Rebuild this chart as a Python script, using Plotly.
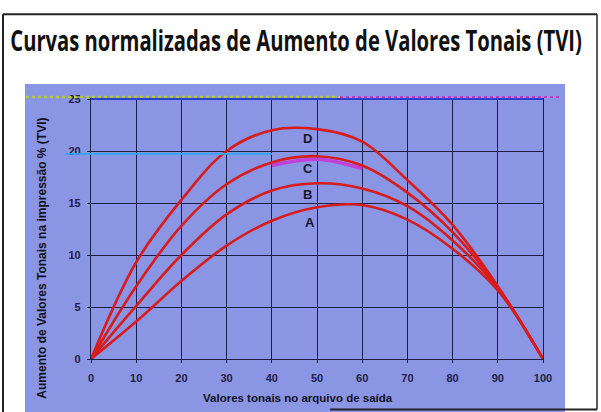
import plotly.graph_objects as go

# ---- data ----
x_vals = [0, 10, 20, 30, 40, 50, 60, 70, 80, 90, 100]
curve_A = [0, 3.6, 7.5, 10.9, 13.3, 14.6, 14.8, 13.4, 10.6, 6.6, 0]
curve_B = [0, 5.1, 10.0, 13.9, 16.2, 16.9, 16.4, 14.7, 11.4, 6.8, 0]
curve_C = [0, 7.0, 12.8, 16.8, 18.9, 19.5, 18.6, 16.0, 12.2, 6.9, 0]
curve_D = [0, 9.3, 15.3, 20.0, 22.0, 22.1, 20.9, 17.2, 12.9, 7.0, 0]
curve_names = ["A", "B", "C", "D"]
label_x = [48.5, 48, 48, 48]
label_y = [13.1, 15.8, 18.3, 21.2]
x_ticks = [0, 10, 20, 30, 40, 50, 60, 70, 80, 90, 100]
y_ticks = [0, 5, 10, 15, 20, 25]

title_text = "Curvas normalizadas de Aumento de Valores Tonais (TVI)"
x_title = "Valores tonais no arquivo de saída"
y_title = "Aumento de Valores Tonais na impressão % (TVI)"

# ---- layout geometry (pixels) ----
W, H = 601, 412
L, R, T, B = 91, 543, 99, 359.5


def px(x):
    return (x - L) / (R - L)


def py(y):
    return (B - y) / (B - T)


BLUE = "#8a95e4"
NAVY = "#1c2048"
RED = "#d81c1c"

fig = go.Figure()

# misregistration artefact under curve C's crest
fig.add_trace(go.Scatter(
    x=x_vals[4:7], y=[v - 0.3 for v in curve_C[4:7]], mode="lines",
    line=dict(color="#c040d8", width=3.5, shape="spline"),
    hoverinfo="skip", showlegend=False))

for name, ys in zip(curve_names, [curve_A, curve_B, curve_C, curve_D]):
    fig.add_trace(go.Scatter(
        x=x_vals, y=ys, mode="lines", name=name,
        line=dict(color=RED, width=2.6, shape="spline", smoothing=1.0),
        showlegend=False))

shapes = [
    # blue panel
    dict(type="rect", xref="paper", yref="paper", x0=px(25), x1=px(565),
         y0=py(414), y1=py(84), fillcolor=BLUE, line=dict(width=0), layer="below"),
    # page frame
    dict(type="line", xref="paper", yref="paper", x0=px(3), x1=px(597), y0=py(14), y1=py(14),
         line=dict(color="#222222", width=2)),
    dict(type="line", xref="paper", yref="paper", x0=px(3), x1=px(3), y0=py(14), y1=py(414),
         line=dict(color="#222222", width=2)),
    dict(type="line", xref="paper", yref="paper", x0=px(597), x1=px(597), y0=py(14), y1=py(410),
         line=dict(color="#222222", width=1.5)),
    dict(type="line", xref="paper", yref="paper", x0=px(330), x1=px(597), y0=py(410), y1=py(410),
         line=dict(color="#222222", width=2)),
    # coloured artefacts along top border
    dict(type="line", xref="paper", yref="paper", x0=px(26), x1=px(340), y0=py(97), y1=py(97),
         line=dict(color="#b8c838", width=2.5, dash="dot")),
    dict(type="line", xref="paper", yref="paper", x0=px(340), x1=px(560), y0=py(97), y1=py(97),
         line=dict(color="#c03cc8", width=2, dash="dot")),
    dict(type="line", xref="paper", yref="paper", x0=px(91), x1=px(543), y0=1, y1=1,
         line=dict(color="#2a40c8", width=2)),
    # cyan artefact near y = 20
    dict(type="line", xref="paper", yref="paper", x0=px(65), x1=px(272), y0=19.72 / 25, y1=19.72 / 25,
         line=dict(color="#30a8f0", width=1.6)),
]

annotations = [
    dict(text=title_text, xref="paper", yref="paper", x=px(8), y=py(40),
         xanchor="left", yanchor="middle", showarrow=False,
         font=dict(family="Open Sans", size=28, color="#111111", weight="bold")),
    dict(text=x_title, xref="paper", yref="paper", x=px(298), y=py(399),
         xanchor="center", yanchor="middle", showarrow=False,
         font=dict(family="Liberation Sans", size=11.5, color="#111122", weight="bold")),
    dict(text=y_title, xref="paper", yref="paper", x=px(42), y=py(259),
         xanchor="center", yanchor="middle", showarrow=False, textangle=-90,
         font=dict(family="Liberation Sans", size=12, color="#111122", weight="bold")),
]
for n, lx, ly in zip(curve_names, label_x, label_y):
    annotations.append(dict(text=n, x=lx, y=ly, xref="x", yref="y", showarrow=False,
                            font=dict(family="Liberation Sans", size=13, color="#15152a", weight="bold")))

fig.update_layout(
    width=W, height=H,
    margin=dict(l=L, r=W - R, t=T, b=H - B, pad=0),
    paper_bgcolor="white", plot_bgcolor="rgba(0,0,0,0)",
    shapes=shapes, annotations=annotations,
    xaxis=dict(range=[0, 100], tickvals=x_ticks, showgrid=True, gridcolor=NAVY, gridwidth=1.3,
               zeroline=False, showline=True, linecolor=NAVY, linewidth=1.3, mirror=True,
               ticks="outside", ticklen=3, tickcolor=NAVY, ticklabelstandoff=6,
               tickfont=dict(family="Liberation Sans", size=11, color=NAVY, weight="bold")),
    yaxis=dict(range=[0, 25], tickvals=y_ticks, showgrid=True, gridcolor=NAVY, gridwidth=1.3,
               zeroline=False, showline=True, linecolor=NAVY, linewidth=1.3, mirror=True,
               ticks="outside", ticklen=3, tickcolor=NAVY, ticklabelstandoff=4,
               tickfont=dict(family="Liberation Sans", size=11, color=NAVY, weight="bold")),
)

# remove the default page margin and condense the title horizontally
# (the original uses a condensed typeface)
post_js = """
document.body.style.margin = '0';
document.body.style.padding = '0';
var gd = document.getElementById('{plot_id}');
function fitTitle(){
  var t = gd.querySelector('g.annotation[data-index="0"] text');
  if(!t) return;
  t.style.transform = '';
  var w = t.getBBox().width;
  if(!w) return;
  var s = 572 / w;
  t.style.transformBox = 'fill-box';
  t.style.transformOrigin = '0% 50%';
  t.style.transform = 'scaleX(' + s + ')';
}
fitTitle();
if (document.fonts && document.fonts.ready) { document.fonts.ready.then(fitTitle); }
gd.on('plotly_afterplot', fitTitle);
"""

fig.write_html("out.html", post_script=post_js, config={"displayModeBar": False})
